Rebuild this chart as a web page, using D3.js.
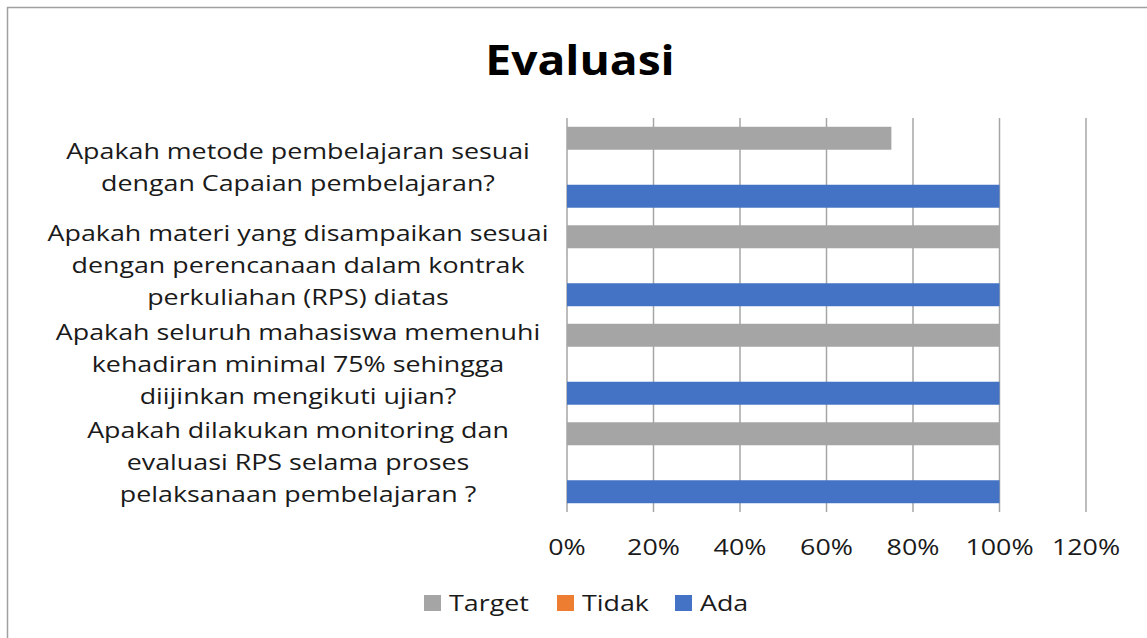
<!DOCTYPE html>
<html>
<head>
<meta charset="utf-8">
<script src="https://cdn.jsdelivr.net/npm/d3@7"></script>
<style>
  body { margin: 0; background: #fff; }
  svg { display: block; font-family: "Open Sans", "Noto Sans", sans-serif; }
</style>
</head>
<body>
<div id="chart"></div>
<script>
// data
const categories = [
  ["Apakah metode pembelajaran sesuai", "dengan Capaian pembelajaran?"],
  ["Apakah materi yang disampaikan sesuai", "dengan perencanaan dalam kontrak", "perkuliahan (RPS) diatas"],
  ["Apakah seluruh mahasiswa memenuhi", "kehadiran minimal 75% sehingga", "diijinkan mengikuti ujian?"],
  ["Apakah dilakukan monitoring dan", "evaluasi RPS selama proses", "pelaksanaan pembelajaran ?"]
];
const seriesNames = ["Target", "Tidak", "Ada"];
const target = [0.75, 1, 1, 1];
const tidak = [0, 0, 0, 0];
const ada = [1, 1, 1, 1];
const ticks = [0, 0.2, 0.4, 0.6, 0.8, 1, 1.2];
const colors = ["#a5a5a5", "#ed7d31", "#4472c4"];

const W = 1147, H = 638;
const plot = { left: 567, right: 1086, top: 118, bottom: 512 };
const stretch = 1.22; // text in the reference is wider than Open Sans

const svg = d3.select("#chart").append("svg")
  .attr("width", W).attr("height", H);

// outer border
svg.append("rect")
  .attr("x", 7.5).attr("y", 7.5)
  .attr("width", W + 10).attr("height", H + 10)
  .attr("fill", "none").attr("stroke", "#a0a0a0").attr("stroke-width", 1.5);

// title
svg.append("text")
  .attr("transform", "translate(580,75) scale(1.1,1)")
  .attr("text-anchor", "middle")
  .attr("font-size", 42).attr("font-weight", "bold")
  .attr("fill", "#000")
  .text("Evaluasi");

const x = d3.scaleLinear().domain([0, 1.2]).range([plot.left, plot.right]);
const y = d3.scaleBand().domain(d3.range(categories.length))
  .range([plot.top, plot.bottom]).paddingInner(0.178).paddingOuter(0.089);
const yInner = d3.scaleBand().domain(d3.range(seriesNames.length))
  .range([0, y.bandwidth()]).paddingInner(0.207);

// gridlines
svg.append("g").selectAll("line")
  .data(ticks)
  .enter().append("line")
  .attr("x1", d => x(d)).attr("x2", d => x(d))
  .attr("y1", plot.top).attr("y2", plot.bottom)
  .attr("stroke", "#a6a6a6").attr("stroke-width", 1.5);

// bars
const values = [target, tidak, ada];
const groups = svg.append("g").selectAll("g")
  .data(categories)
  .enter().append("g")
  .attr("transform", (d, i) => `translate(0,${y(i)})`);

groups.selectAll("rect")
  .data((d, i) => values.map((s, j) => ({ s: j, v: s[i] })))
  .enter().append("rect")
  .attr("x", x(0))
  .attr("y", d => yInner(d.s))
  .attr("width", d => x(d.v) - x(0))
  .attr("height", yInner.bandwidth())
  .attr("fill", d => colors[d.s]);

// category labels
const lineH = 32;
svg.append("g").selectAll("text")
  .data(categories)
  .enter().append("text")
  .attr("text-anchor", "middle")
  .attr("font-size", 22)
  .attr("fill", "#1a1a1a")
  .each(function (lines, i) {
    const cy = y(i) + y.bandwidth() / 2;
    const t0 = cy - (lines.length - 1) * lineH / 2;
    d3.select(this)
      .attr("transform", `translate(298,${t0}) scale(${stretch},1)`)
      .selectAll("tspan")
      .data(lines)
      .enter().append("tspan")
      .attr("x", 0)
      .attr("y", (d, k) => k * lineH)
      .attr("dy", "0.35em")
      .text(d => d);
  });

// x tick labels
svg.append("g").selectAll("text")
  .data(ticks)
  .enter().append("text")
  .attr("transform", d => `translate(${x(d)},547) scale(${stretch},1)`)
  .attr("dy", "0.35em")
  .attr("text-anchor", "middle")
  .attr("font-size", 22)
  .attr("fill", "#1a1a1a")
  .text(d => d3.format(".0%")(d));

// legend
const legendX = [424, 557, 675];
const legend = svg.append("g").selectAll("g")
  .data(seriesNames)
  .enter().append("g")
  .attr("transform", (d, i) => `translate(${legendX[i]},603)`);
legend.append("rect")
  .attr("x", 0).attr("y", -8)
  .attr("width", 17).attr("height", 16)
  .attr("fill", (d, i) => colors[i]);
legend.append("text")
  .attr("transform", `translate(25,0) scale(${stretch},1)`)
  .attr("dy", "0.35em")
  .attr("font-size", 22)
  .attr("fill", "#1a1a1a")
  .text(d => d);
</script>
</body>
</html>
